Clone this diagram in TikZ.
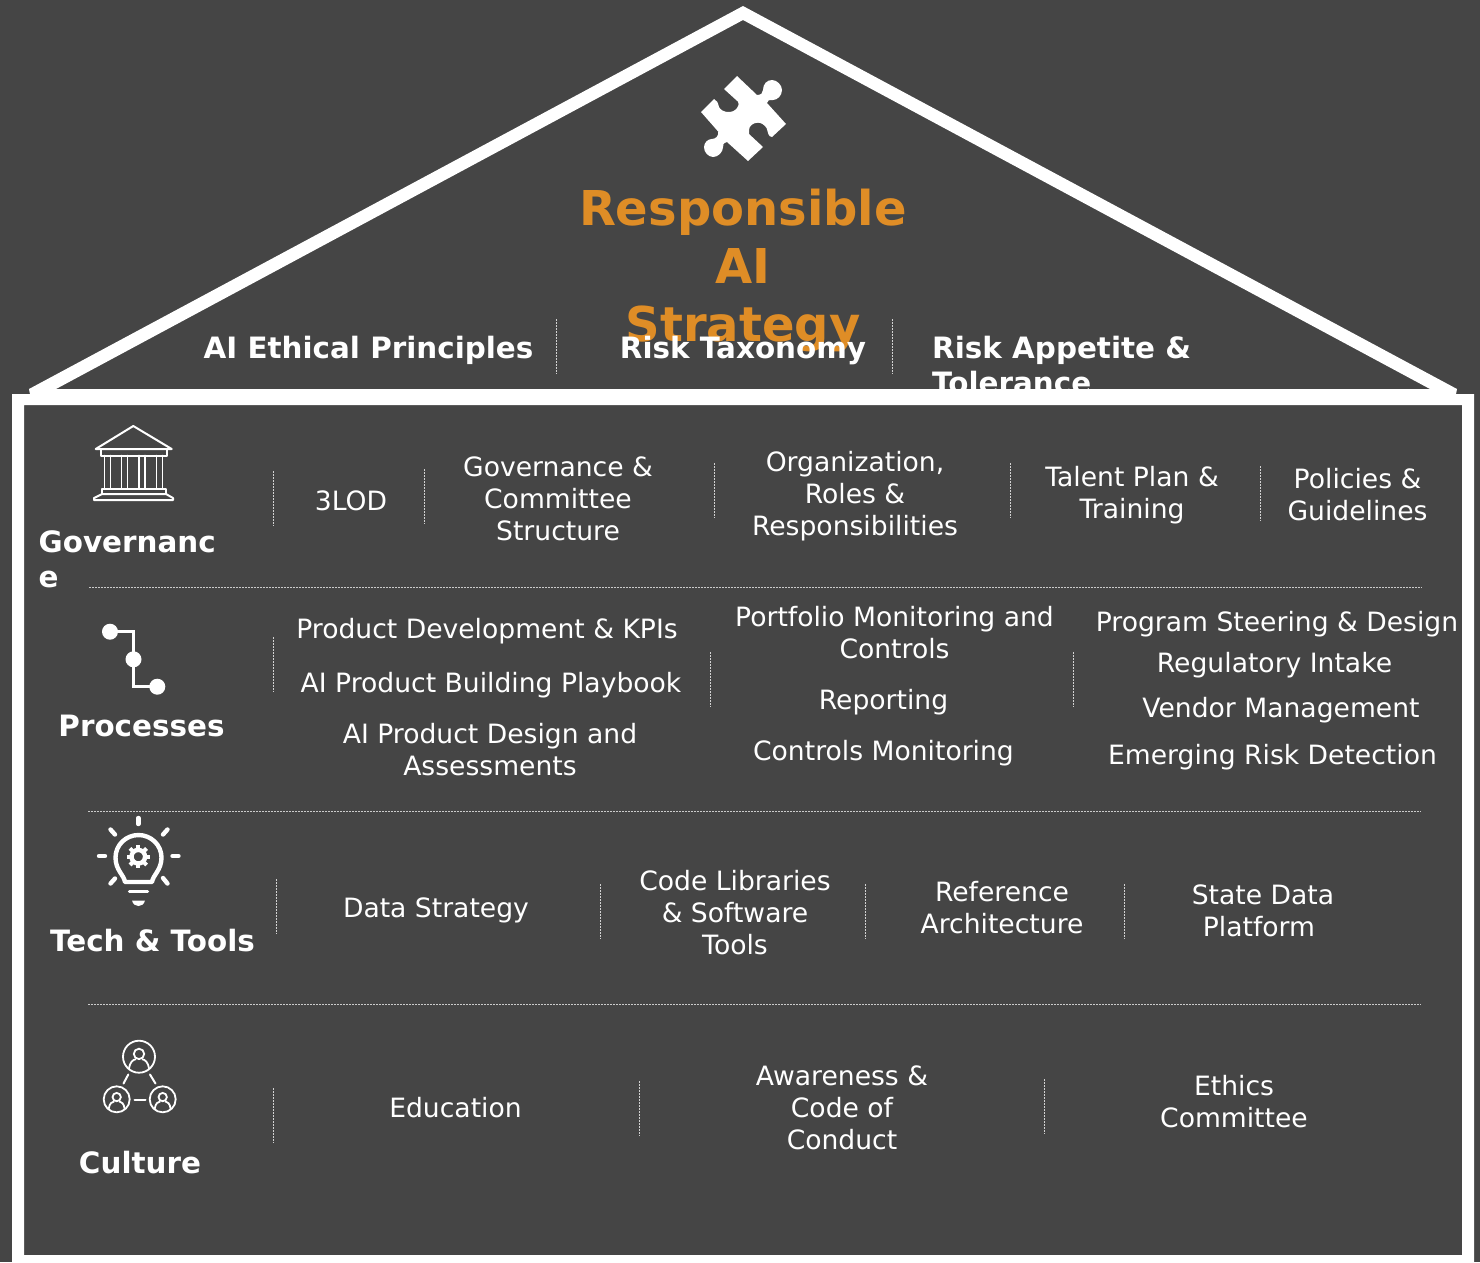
\documentclass[tikz,border=0pt]{standalone}
\usepackage{fontspec}
\setmainfont{DejaVu Sans}
\definecolor{bgc}{HTML}{454545}
\definecolor{orangec}{HTML}{DF8D26}
\tikzset{
  bodytext/.style={text=white,align=center,inner sep=0pt,font=\fontsize{26.6}{32}\selectfont},
  headtext/.style={text=white,inner sep=0pt,font=\fontsize{29.4}{36}\bfseries\selectfont},
  titletext/.style={text=orangec,align=center,inner sep=0pt,font=\fontsize{48}{58}\bfseries\selectfont},
  sepline/.style={draw=white!75!bgc,line width=1pt,dash pattern=on 1.5pt off 1.5pt},
  ruleline/.style={draw=white!72!bgc,line width=1pt,dash pattern=on 1.5pt off 1.5pt},
  iconline/.style={draw=white,line width=2pt,line cap=round,line join=round},
  iconthick/.style={draw=white,line width=4.4pt,line cap=round,line join=round}
}
\begin{document}
\begin{tikzpicture}[x=1pt,y=-1pt]
\useasboundingbox (0,0) rectangle (1480,1262);
\fill[bgc] (0,0) rectangle (1480,1262);
% title
\node[titletext] (title) at (743,270) {Responsible\\AI\\Strategy};
% top labels
\node[headtext,anchor=base] (ethical) at (368.5,358) {AI Ethical Principles};
\node[headtext,anchor=base] (taxonomy) at (743,358) {Risk Taxonomy};
\node[headtext,anchor=base west] (appetite) at (932,358) {Risk Appetite \&};
\node[headtext,anchor=base west] (tolerance) at (932,393) {Tolerance};
% house frame
\fill[white,even odd rule]
  (29,389) -- (743,6) -- (1457,389) -- (1456,394) -- (1474,394) -- (1474,1262) -- (12,1262) -- (12,394) -- (30,394) -- cycle
  (56,389) -- (743,20) -- (1430,389) -- cycle
  (24,405) rectangle (1462,1255);
% puzzle
\fill[white] (737,76) -- (757,95)
  .. controls (761,95) and (763,93) .. (763,90)
  .. controls (763,84) and (767,80) .. (772,80)
  .. controls (777,80) and (782,85) .. (782,90)
  .. controls (782,96) and (777,100) .. (773,100)
  .. controls (769.5,100) and (767,100) .. (767,103)
  -- (786,124) -- (772,137)
  .. controls (768,137) and (768,132) .. (766.7,128.3)
  .. controls (764.5,124.5) and (761,122.7) .. (758,122.7)
  .. controls (753,122.7) and (749,126) .. (749,130)
  .. controls (749,132) and (749,133) .. (749,134)
  -- (763,147) -- (748,161) -- (727,142)
  .. controls (723,143) and (723,145) .. (723,147.3)
  .. controls (723,152) and (718,157) .. (713.3,157)
  .. controls (708,157) and (704,152) .. (704,147.3)
  .. controls (704,142.5) and (708,139) .. (711.7,139)
  .. controls (716,139) and (718.5,136) .. (718.3,131.7)
  -- (701,112) -- (714,99)
  .. controls (717,100) and (718,103) .. (719,107)
  .. controls (722,113) and (733,114) .. (737,108)
  .. controls (739,105) and (739,103) .. (738,101.7)
  -- (724,89) -- cycle;
% top separators
\draw[sepline] (556.5,319) -- (556.5,374);
\draw[sepline] (892.5,319) -- (892.5,374);
% rules
\draw[ruleline] (89,587) -- (1422,587);
\draw[ruleline] (88,811) -- (1421,811);
\draw[ruleline] (88,1004) -- (1421,1004);
% temple icon
\draw[iconline] (95.7,449) -- (133.3,426) -- (171.7,449) -- cycle;
\draw[iconline] (101,449) -- (101,455.5) -- (166.7,455.5) -- (166.7,449);
\foreach \xa/\xb in {104.5/110.5,121.5/127.5,139/145,156.5/162.5}{
  \draw[iconline,line width=1.8pt] (\xa,455.5) -- (\xa,489);
  \draw[iconline,line width=1.8pt] (\xb,455.5) -- (\xb,489);
}
\draw[iconline] (102,494) -- (102,489) -- (166,489) -- (166,494);
\draw[iconline] (102,494) -- (166,494) -- (173,498) -- (173,500) -- (94,500) -- (94,498) -- cycle;
% governance
\node[headtext,anchor=base west] (gov1) at (38.5,552) {Governanc};
\node[headtext,anchor=base west] (gov2) at (38.5,587) {e};
\draw[sepline] (273,471) -- (273,526);
\node[bodytext] (lod) at (351,501) {3LOD};
\draw[sepline] (424,469) -- (424,524);
\node[bodytext] (gcs) at (558,499) {Governance \&\\Committee\\Structure};
\draw[sepline] (714.5,463) -- (714.5,518);
\node[bodytext] (org) at (855,496) {Organization,\\Roles \&\\Responsibilities};
\draw[sepline] (1010,463) -- (1010,518);
\node[bodytext] (talent) at (1132,495.5) {Talent Plan \&\\Training};
\draw[sepline] (1260,466) -- (1260,521);
\node[bodytext] (policies) at (1357.5,494.5) {Policies \&\\Guidelines};
% process icon
\draw[draw=white,line width=3pt] (110,631.7) -- (133.5,631.7) -- (133.5,686.7) -- (157,686.7);
\fill[white] (110,631.7) circle (8);
\fill[white] (133.5,659.3) circle (8);
\fill[white] (157.3,686.7) circle (8);
% processes
\node[headtext,anchor=base] (proc) at (141.5,736) {Processes};
\draw[sepline] (273,637) -- (273,692);
\node[bodytext] (p1) at (487,631.5) {Product Development \& KPIs};
\node[bodytext] (p2) at (491,685.5) {AI Product Building Playbook};
\node[bodytext] (p3) at (490,750) {AI Product Design and\\Assessments};
\draw[sepline] (710.5,652) -- (710.5,707);
\node[bodytext] (p4) at (894.5,633) {Portfolio Monitoring and\\Controls};
\node[bodytext] (p5) at (883.5,702) {Reporting};
\node[bodytext] (p6) at (883.5,753) {Controls Monitoring};
\draw[sepline] (1073,652) -- (1073,707);
\node[bodytext] (p7) at (1277,624.5) {Program Steering \& Design};
\node[bodytext] (p8) at (1274.5,665.5) {Regulatory Intake};
\node[bodytext] (p9) at (1281,710.5) {Vendor Management};
\node[bodytext] (p10) at (1272.5,757.5) {Emerging Risk Detection};
% bulb icon
\draw[iconthick] (125,882)
  .. controls (124,875) and (115.5,870) .. (115.5,857.5)
  .. controls (115.5,845) and (126,835) .. (138.5,835)
  .. controls (151,835) and (161.5,845) .. (161.5,857.5)
  .. controls (161.5,870) and (153,875) .. (152,882) -- cycle;
\draw[draw=white,line width=3.5pt,line cap=round] (129.5,891.5) -- (147.5,891.5);
\fill[white] (132,900.5) -- (145,900.5) .. controls (144,904.5) and (141,906) .. (138.5,906) .. controls (136,906) and (133,904.5) .. (132,900.5) -- cycle;
\foreach \a in {0,45,...,315}{
  \draw[draw=white,line width=4pt] (138.3,856.7) ++(\a:7) -- ++(\a:4.7);
}
\draw[draw=white,line width=4.4pt] (138.3,856.7) circle (6.8);
\draw[iconthick] (138.3,818) -- (138.3,824);
\draw[iconthick] (99,856) -- (105,856);
\draw[iconthick] (172.5,856) -- (178.5,856);
\draw[iconthick] (110.5,829.5) -- (115,834.5);
\draw[iconthick] (167.5,829.5) -- (163,834.5);
\draw[iconthick] (110.5,883.5) -- (115,878.5);
\draw[iconthick] (167.5,883.5) -- (163,878);
% tech
\node[headtext,anchor=base] (tech) at (152.5,951) {Tech \& Tools};
\draw[sepline] (276.5,879) -- (276.5,934);
\node[bodytext] (data) at (436,910.5) {Data Strategy};
\draw[sepline] (600.5,884) -- (600.5,939);
\node[bodytext] (code) at (735,912.5) {Code Libraries\\\& Software\\Tools};
\draw[sepline] (865.5,884) -- (865.5,939);
\node[bodytext] (ref) at (1002,907.5) {Reference\\Architecture};
\draw[sepline] (1124.5,884) -- (1124.5,939);
\node[bodytext] (state) at (1263,911) {State Data\\[0pt]\hspace*{-8pt}Platform};
% people icon
\foreach \cx/\cy/\r/\s in {139/1056.7/16/1,116.7/1099.3/13/0.8,162.7/1099.3/13/0.8}{
  \draw[draw=white,line width=1.8pt] (\cx,\cy) circle (\r);
  \draw[draw=white,line width=1.8pt] (\cx,\cy-2.8*\s) circle (5.2*\s);
  \draw[draw=white,line width=1.8pt] (\cx-10*\s,\cy+12*\s) .. controls (\cx-9*\s,\cy+5*\s) and (\cx-6*\s,\cy+3*\s) .. (\cx-3*\s,\cy+2.5*\s);
  \draw[draw=white,line width=1.8pt] (\cx+10*\s,\cy+12*\s) .. controls (\cx+9*\s,\cy+5*\s) and (\cx+6*\s,\cy+3*\s) .. (\cx+3*\s,\cy+2.5*\s);
}
\draw[iconline] (128.3,1074.5) -- (123.5,1083.5);
\draw[iconline] (150,1074.5) -- (155.5,1083.5);
\draw[iconline] (134.5,1100) -- (145.5,1100);
% culture
\node[headtext,anchor=base] (cult) at (140,1173) {Culture};
\draw[sepline] (273,1088) -- (273,1143);
\node[bodytext] (edu) at (455.5,1107.5) {Education};
\draw[sepline] (639,1081) -- (639,1136);
\node[bodytext] (aware) at (842,1108) {Awareness \&\\Code of\\Conduct};
\draw[sepline] (1044,1079) -- (1044,1134);
\node[bodytext] (ethics) at (1234,1101.5) {Ethics\\Committee};
\end{tikzpicture}
\end{document}
